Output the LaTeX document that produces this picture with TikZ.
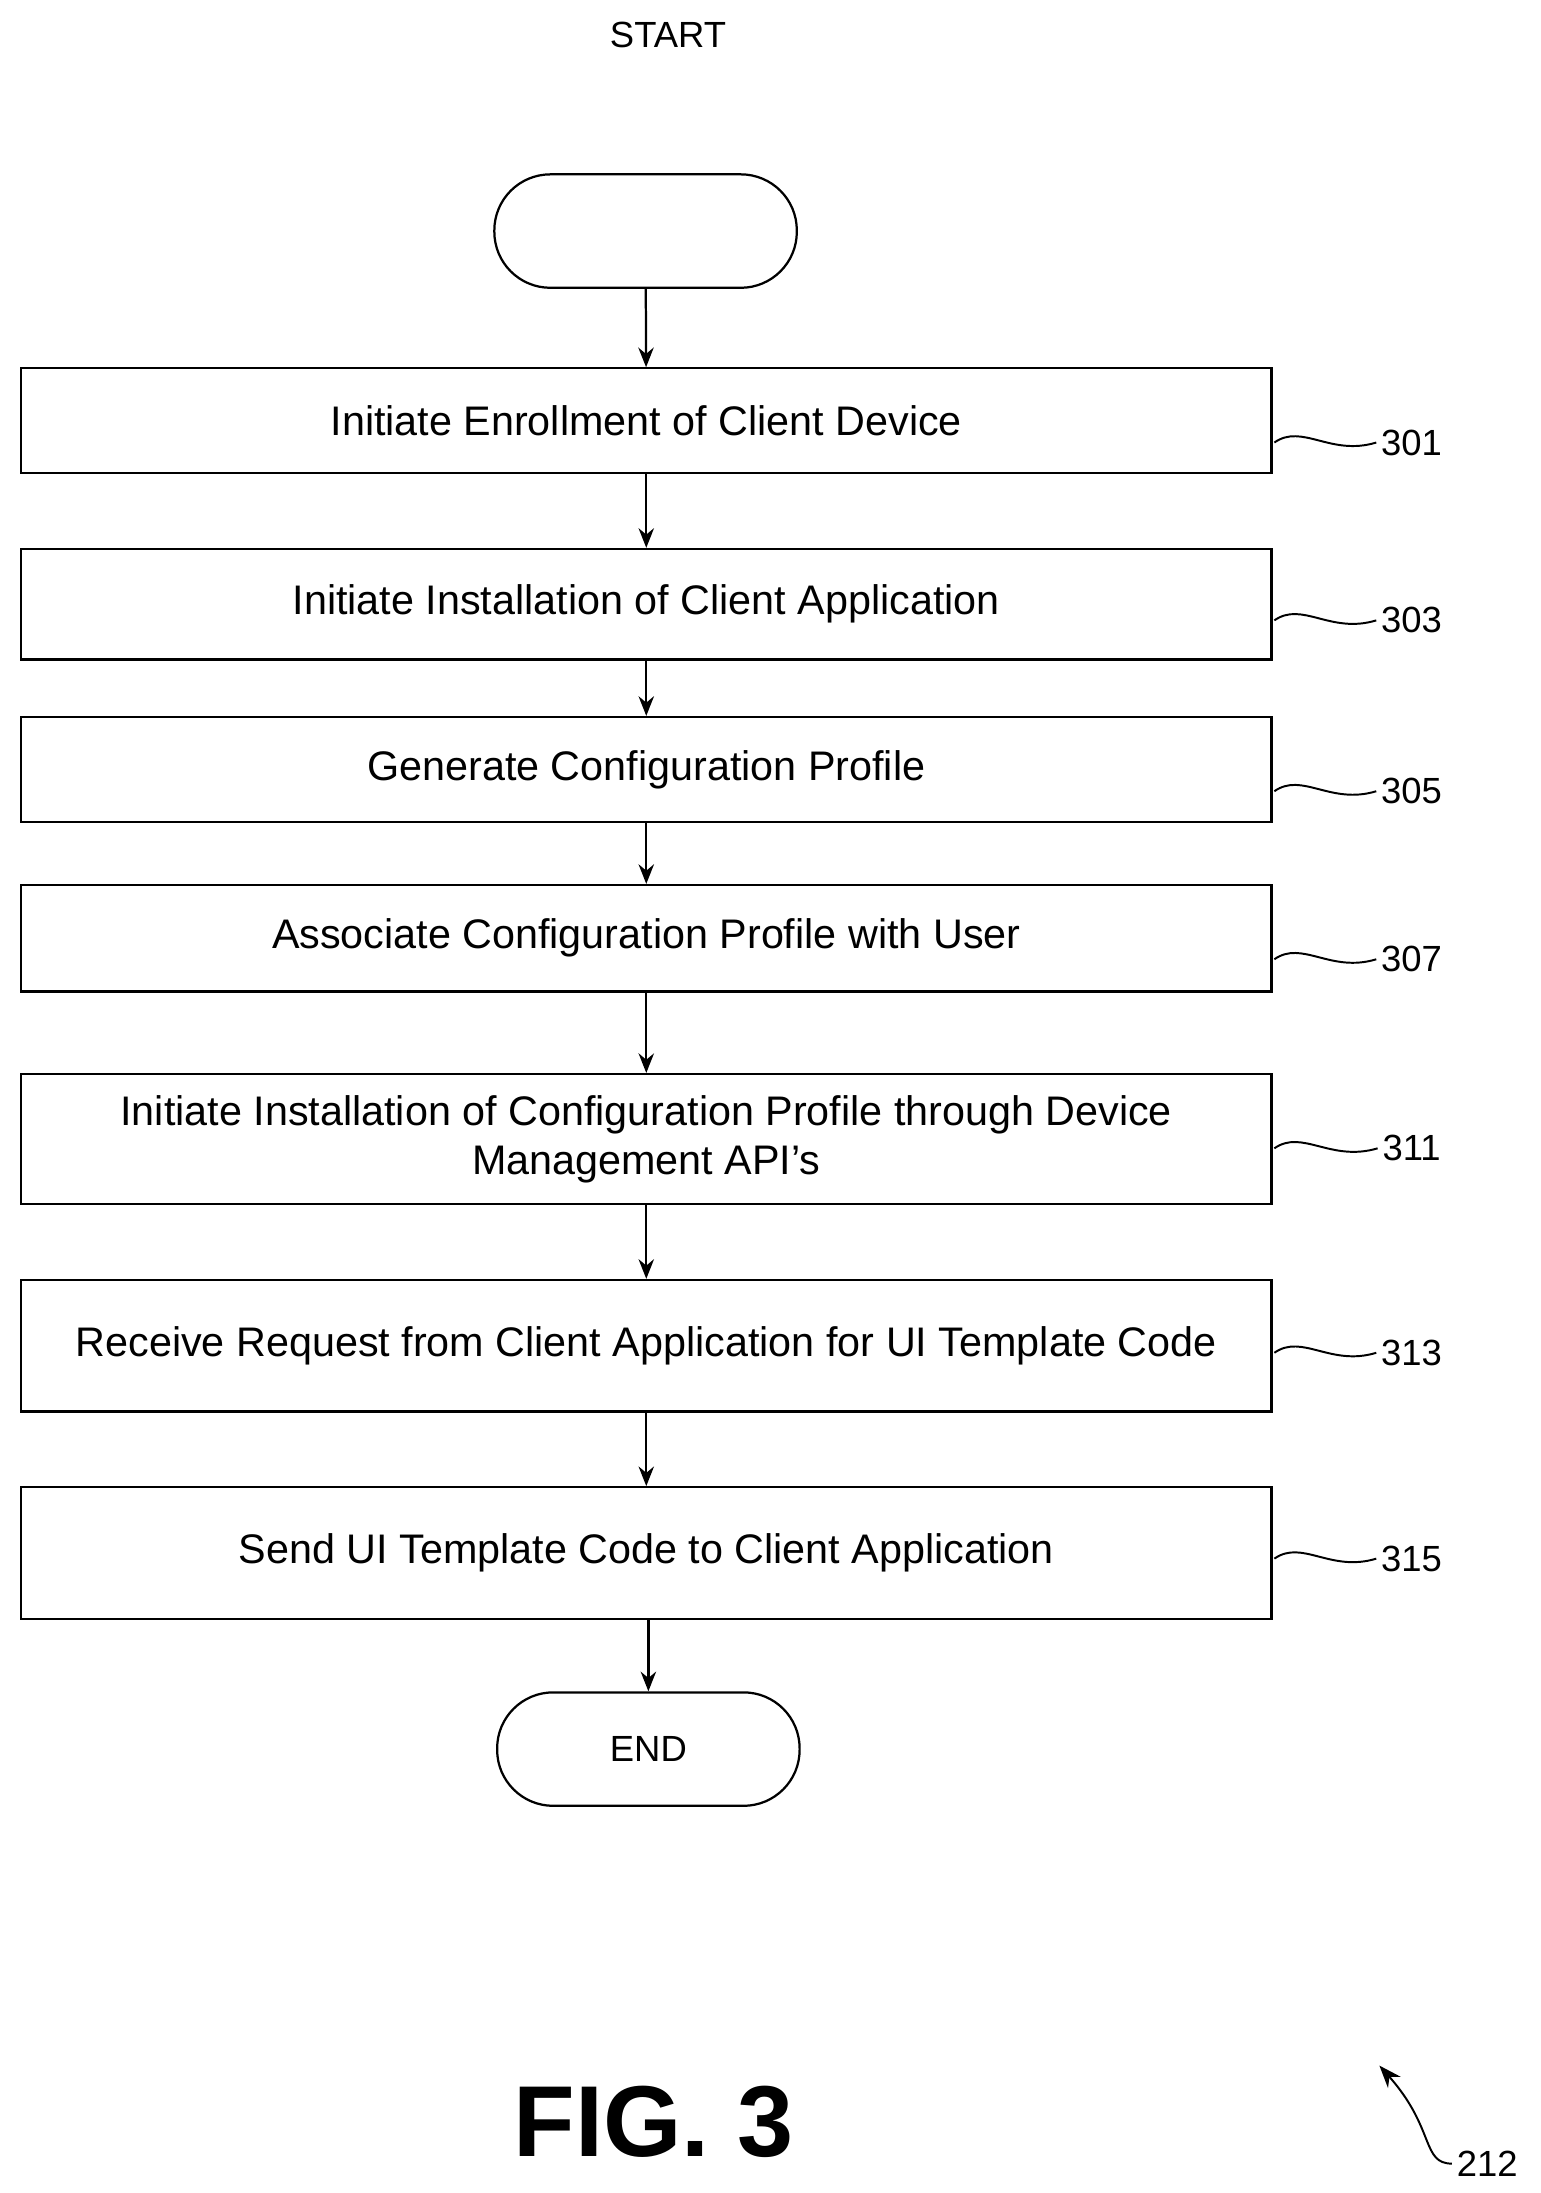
\documentclass[tikz,border=0pt]{standalone}
\usepackage{fontspec}
\setmainfont{Liberation Sans}
\usetikzlibrary{arrows.meta}
\begin{document}
\begin{tikzpicture}[x=1pt,y=-1pt,
  box/.style={draw,line width=1.6pt,minimum width=893pt,inner sep=0pt,align=center,font=\fontsize{29.5}{35}\selectfont},
  term/.style={draw,line width=1.6pt,rounded corners=40pt,minimum width=216pt,minimum height=81pt,font=\fontsize{26}{30}\selectfont},
  arr/.style={line width=1.6pt,-{Stealth[length=14pt,width=11pt]}},
  lab/.style={font=\fontsize{26}{30}\selectfont},
  sq/.style={line width=1.4pt}]
\useasboundingbox (0,0) rectangle (1100,1566);
\node[lab] (st) at (477,25) {START};
\node[term] (s) at (461,165) {};
\node[box,minimum height=75pt] (b1) at (461.5,300.5) {Initiate Enrollment of Client Device};
\node[box,minimum height=79pt] (b2) at (461.5,431.5) {Initiate Installation of Client Application};
\node[box,minimum height=75pt] (b3) at (461.5,549.5) {Generate Configuration Profile};
\node[box,minimum height=76pt] (b4) at (461.5,670) {Associate Configuration Profile with User};
\node[box,minimum height=93pt] (b5) at (461.5,813.5) {Initiate Installation of Configuration Profile through Device\\Management API's};
\node[box,minimum height=94pt] (b6) at (461.5,961) {Receive Request from Client Application for UI Template Code};
\node[box,minimum height=94pt] (b7) at (461.5,1109) {Send UI Template Code to Client Application};
\node[term] (e) at (463,1249) {END};
\draw[arr] (s) -- (b1);
\draw[arr] (b1) -- (b2);
\draw[arr] (b2) -- (b3);
\draw[arr] (b3) -- (b4);
\draw[arr] (b4) -- (b5);
\draw[arr] (b5) -- (b6);
\draw[arr] (b6) -- (b7);
\draw[arr] (b7.south -| e) -- (e);
\foreach \n/\y/\t in {b1/316/301,b2/443/303,b3/565/305,b4/685/307,b5/820/311,b6/966/313,b7/1113/315}{
  \node[lab] (l\t) at (1008,\y) {\t};
  \coordinate (c\t) at (910,\y);
  \draw[sq] (c\t) .. controls (930,\y-14) and (950,\y+10) .. (l\t.west);
}
\node[font=\bfseries\fontsize{72}{80}\selectfont] (fig) at (467,1515) {FIG. 3};
\node[lab] (n212) at (1062,1545) {212};
\coordinate (a212) at (985,1475);
\draw[sq,-{Stealth[length=16pt,width=12pt]}] (n212.west) .. controls (1015,1545) and (1025,1520) .. (a212);
\end{tikzpicture}
\end{document}
